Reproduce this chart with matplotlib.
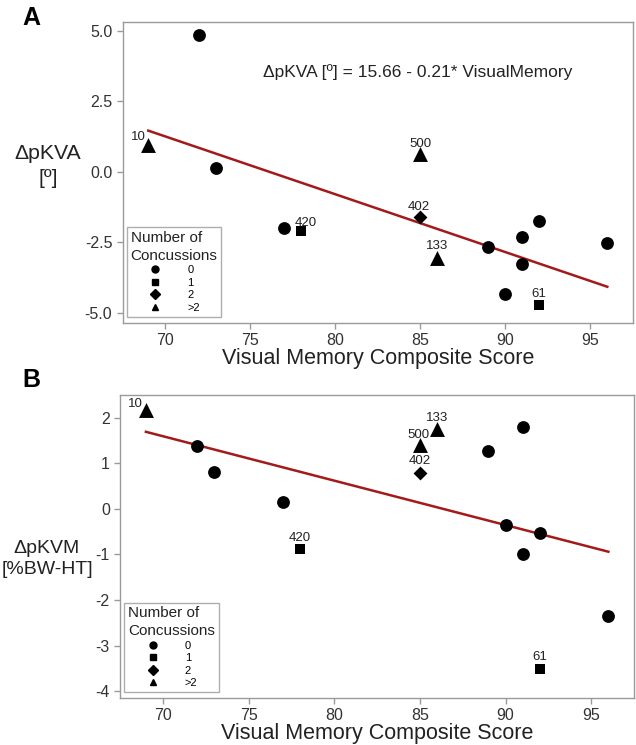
import matplotlib
matplotlib.use("Agg")
import matplotlib.pyplot as plt
from matplotlib.lines import Line2D
import numpy as np

plt.rcParams['font.family'] = ['Liberation Sans', 'DejaVu Sans']

# ---- data ----
concussion_levels = ['0', '1', '2', '>2']
level_markers = {'0': 'o', '1': 's', '2': 'D', '>2': '^'}

visual_memory = [72, 69, 73, 77, 78, 85, 85, 86, 89, 91, 91, 92, 90, 92, 96]
group_A = ['0', '>2', '0', '0', '1', '>2', '2', '>2', '0', '0', '0', '0', '0', '1', '0']
labels_A = ['', '10', '', '', '420', '500', '402', '133', '', '', '', '', '', '61', '']
dpKVA = [4.86, 0.95, 0.12, -1.98, -2.09, 0.61, -1.61, -3.06, -2.68, -2.33, -3.29, -1.75, -4.34, -4.74, -2.54]
fitA = [15.6, -0.205]  # intercept, slope as drawn
fitA_range = [69, 96]

visual_memory_B = [69, 72, 73, 77, 78, 85, 85, 86, 89, 91, 90, 92, 91, 96, 92]
group_B = ['>2', '0', '0', '0', '1', '>2', '2', '>2', '0', '0', '0', '0', '0', '0', '1']
labels_B = ['10', '', '', '', '420', '500', '402', '133', '', '', '', '', '', '', '61']
dpKVM = [2.17, 1.37, 0.81, 0.14, -0.87, 1.39, 0.79, 1.76, 1.26, 1.80, -0.36, -0.54, -1.0, -2.34, -3.51]
fitB = [8.41, -0.0974]
fitB_range = [69, 96]

xticks = [70, 75, 80, 85, 90, 95]
yticks_A = [5.0, 2.5, 0.0, -2.5, -5.0]
yticks_B = [2, 1, 0, -1, -2, -3, -4]

marker_sizes = {'o': 85, 's': 60, 'D': 50, '^': 115}
line_color = '#a31a1a'
spine_color = '#9a9a9a'
text_color = '#333333'

fig = plt.figure(figsize=(6.36, 7.45), dpi=100)
axA = fig.add_axes([0.193, 0.567, 0.802, 0.404])
axB = fig.add_axes([0.189, 0.063, 0.808, 0.407])


def draw(ax, xs, ys, groups, labels, fit, frange, yticks, ylim, yfmt, label_offsets):
    for g in concussion_levels:
        idx = [i for i, gg in enumerate(groups) if gg == g]
        m = level_markers[g]
        ax.scatter([xs[i] for i in idx], [ys[i] for i in idx], marker=m,
                   s=marker_sizes[m], c='black', zorder=3, linewidths=0)
    fx = np.array(frange, dtype=float)
    ax.plot(fx, fit[0] + fit[1] * fx, color=line_color, lw=1.8, zorder=2)
    for i, lab in enumerate(labels):
        if lab:
            dx, dy, ha = label_offsets.get(lab, (0, 5, 'center'))
            ax.annotate(lab, (xs[i], ys[i]), xytext=(dx, dy), textcoords='offset points',
                        ha=ha, va='bottom', fontsize=9.5, color='#222222')
    ax.set_xlim(67.5, 97.5)
    ax.set_ylim(*ylim)
    ax.set_xticks(xticks)
    ax.set_yticks(yticks)
    ax.set_yticklabels([yfmt.format(v) for v in yticks])
    for s in ax.spines.values():
        s.set_color(spine_color)
        s.set_linewidth(1.0)
    ax.tick_params(colors=spine_color, labelcolor=text_color, labelsize=11.5, length=4, width=1)
    ax.set_xlabel('Visual Memory Composite Score', fontsize=15.5, color='#222222', labelpad=0)
    handles = [Line2D([], [], marker=level_markers[g], color='black', linestyle='none',
                      markersize=5) for g in concussion_levels]
    leg = ax.legend(handles, concussion_levels, title='Number of\nConcussions', loc='lower left',
                    fontsize=8, title_fontsize=11, handletextpad=2.3, labelspacing=0.22,
                    borderpad=0.35, fancybox=False, edgecolor=spine_color,
                    bbox_to_anchor=(0.008, 0.02), handlelength=1.2, borderaxespad=0)
    leg.get_frame().set_linewidth(1.0)
    leg.get_title().set_color('#222222')
    leg.get_title().set_linespacing(1.35)
    leg._legend_box.align = 'center'


draw(axA, visual_memory, dpKVA, group_A, labels_A, fitA, fitA_range, yticks_A, (-5.35, 5.32),
     '{:.1f}', {'10': (-2, 1, 'right'), '420': (3, 1, 'center'), '61': (0, 4, 'center'),
                '500': (0, 3, 'center'), '402': (-1, 3, 'center'), '133': (0, 4, 'center')})
draw(axB, visual_memory_B, dpKVM, group_B, labels_B, fitB, fitB_range, yticks_B, (-4.15, 2.5),
     '{:d}', {'10': (-2, 0, 'right'), '420': (0, 3, 'center'), '61': (0, 4, 'center'),
              '500': (-1, 3, 'center'), '402': (0, 4, 'center'), '133': (0, 3, 'center')})

axA.text(0.275, 0.834, 'ΔpKVA [º] = 15.66 - 0.21* VisualMemory', transform=axA.transAxes,
         fontsize=12.5, color='#222222', va='center', ha='left')

fig.text(48 / 636, 1 - 166 / 745, 'ΔpKVA\n[º]', ha='center', va='center', fontsize=15.3,
         color='#222222', linespacing=1.4)
fig.text(47 / 636, 1 - 559 / 745, 'ΔpKVM\n[%BW-HT]', ha='center', va='center', fontsize=14,
         color='#222222', linespacing=1.3)
fig.text(0.05, 1 - 18 / 745, 'A', ha='center', va='center', fontsize=18, fontweight='bold')
fig.text(0.05, 1 - 380 / 745, 'B', ha='center', va='center', fontsize=18, fontweight='bold')

fig.savefig('out.png', dpi=100)
